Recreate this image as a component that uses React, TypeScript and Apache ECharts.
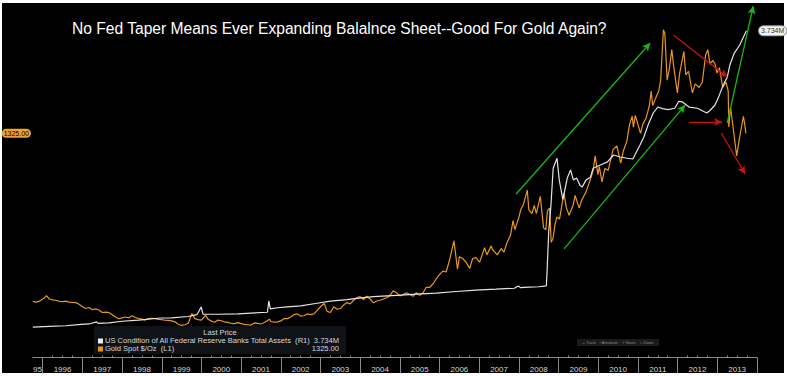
import React, { useEffect, useRef } from "react";
import * as echarts from "echarts";

const TITLE = "No Fed Taper Means Ever Expanding Balalnce Sheet--Good For Gold Again?";
const FED_NAME = "US Condition of All Federal Reserve Banks Total Assets  (R1)";
const GOLD_NAME = "Gold Spot $/Oz  (L1)";
const FED_LAST = "3.734M";
const GOLD_LAST = "1325.00";

const X_MIN = 1995.755;
const X_MAX = 2014;
const yearBoundaries = [1996, 1997, 1998, 1999, 2000, 2001, 2002, 2003, 2004, 2005, 2006, 2007, 2008, 2009, 2010, 2011, 2012, 2013, 2014];
const yearLabels = ["95", "1996", "1997", "1998", "1999", "2000", "2001", "2002", "2003", "2004", "2005", "2006", "2007", "2008", "2009", "2010", "2011", "2012", "2013"];

// Gold Spot $/Oz (left axis)
const goldSpot: [string, number][] = [
  ["1995-10-01", 392], ["1995-11-01", 388], ["1995-12-01", 393], ["1996-01-15", 410], ["1996-02-05", 424],
  ["1996-03-01", 405], ["1996-04-01", 400], ["1996-05-01", 398], ["1996-06-01", 392], ["1996-07-01", 390],
  ["1996-08-01", 393], ["1996-09-01", 388], ["1996-10-01", 386], ["1996-11-01", 385], ["1996-12-01", 376],
  ["1997-01-01", 362], ["1997-02-01", 352], ["1997-03-01", 358], ["1997-04-01", 345], ["1997-05-01", 350],
  ["1997-06-01", 344], ["1997-07-01", 330], ["1997-08-01", 332], ["1997-09-01", 330], ["1997-10-01", 318],
  ["1997-11-01", 305], ["1997-12-01", 295], ["1998-01-01", 300], ["1998-02-01", 305], ["1998-03-01", 300],
  ["1998-04-01", 312], ["1998-05-01", 302], ["1998-06-01", 296], ["1998-07-01", 293], ["1998-08-01", 288],
  ["1998-09-01", 296], ["1998-10-01", 298], ["1998-11-01", 296], ["1998-12-01", 292], ["1999-01-01", 290],
  ["1999-02-01", 287], ["1999-03-01", 286], ["1999-04-01", 283], ["1999-05-01", 278], ["1999-06-01", 265],
  ["1999-07-01", 258], ["1999-08-01", 262], ["1999-09-01", 270], ["1999-10-05", 324], ["1999-11-01", 296],
  ["1999-12-01", 290], ["2000-01-01", 288], ["2000-02-10", 315], ["2000-03-01", 292], ["2000-04-01", 282],
  ["2000-05-01", 276], ["2000-06-01", 288], ["2000-07-01", 284], ["2000-08-01", 278], ["2000-09-01", 275],
  ["2000-10-01", 270], ["2000-11-01", 268], ["2000-12-01", 274], ["2001-01-01", 268], ["2001-02-01", 264],
  ["2001-03-01", 262], ["2001-04-01", 260], ["2001-05-01", 272], ["2001-06-01", 270], ["2001-07-01", 266],
  ["2001-08-01", 274], ["2001-09-20", 292], ["2001-10-01", 280], ["2001-11-01", 276], ["2001-12-01", 278],
  ["2002-01-01", 283], ["2002-02-01", 296], ["2002-03-01", 296], ["2002-04-01", 305], ["2002-05-01", 318],
  ["2002-06-01", 322], ["2002-07-01", 310], ["2002-08-01", 312], ["2002-09-01", 322], ["2002-10-01", 318],
  ["2002-11-01", 322], ["2002-12-01", 342], ["2003-01-01", 362], ["2003-02-05", 380], ["2003-03-01", 336],
  ["2003-04-01", 330], ["2003-05-01", 362], ["2003-06-01", 348], ["2003-07-01", 352], ["2003-08-01", 372],
  ["2003-09-01", 385], ["2003-10-01", 378], ["2003-11-01", 398], ["2003-12-01", 412], ["2004-01-01", 418],
  ["2004-02-01", 402], ["2004-03-01", 420], ["2004-04-01", 405], ["2004-05-01", 384], ["2004-06-01", 394],
  ["2004-07-01", 398], ["2004-08-01", 405], ["2004-09-01", 412], ["2004-10-01", 425], ["2004-11-01", 450],
  ["2004-12-01", 440], ["2005-01-01", 422], ["2005-02-01", 430], ["2005-03-01", 440], ["2005-04-01", 430],
  ["2005-05-01", 420], ["2005-06-01", 440], ["2005-07-01", 425], ["2005-08-01", 440], ["2005-09-01", 470],
  ["2005-10-01", 470], ["2005-11-01", 488], ["2005-12-10", 525], ["2006-01-01", 540], ["2006-02-01", 560],
  ["2006-03-01", 555], ["2006-04-01", 620], ["2006-05-12", 728], ["2006-06-14", 570], ["2006-07-01", 640],
  ["2006-08-01", 630], ["2006-09-01", 610], ["2006-10-05", 575], ["2006-11-01", 630], ["2006-12-01", 635],
  ["2007-01-05", 610], ["2007-02-20", 690], ["2007-03-10", 650], ["2007-04-20", 700], ["2007-05-01", 680],
  ["2007-06-15", 650], ["2007-07-20", 685], ["2007-08-15", 665], ["2007-09-15", 720], ["2007-10-15", 760],
  ["2007-11-08", 840], ["2007-11-25", 790], ["2008-01-01", 860], ["2008-01-20", 905], ["2008-02-10", 925],
  ["2008-03-17", 1010], ["2008-04-01", 900], ["2008-05-01", 880], ["2008-05-20", 925], ["2008-06-10", 880],
  ["2008-07-15", 975], ["2008-08-15", 800], ["2008-09-05", 790], ["2008-09-20", 895], ["2008-10-10", 910],
  ["2008-10-24", 720], ["2008-11-10", 740], ["2008-11-28", 815], ["2008-12-15", 860], ["2009-01-10", 850],
  ["2009-02-20", 995], ["2009-03-10", 915], ["2009-04-06", 870], ["2009-05-15", 930], ["2009-06-01", 980],
  ["2009-07-08", 910], ["2009-08-01", 955], ["2009-09-10", 1000], ["2009-10-15", 1060], ["2009-11-15", 1120],
  ["2009-12-03", 1200], ["2009-12-28", 1095], ["2010-01-10", 1140], ["2010-02-05", 1055], ["2010-03-01", 1130],
  ["2010-04-01", 1120], ["2010-05-15", 1235], ["2010-06-20", 1255], ["2010-07-25", 1160], ["2010-08-20", 1230],
  ["2010-09-20", 1280], ["2010-10-15", 1375], ["2010-11-09", 1420], ["2010-11-20", 1360], ["2010-12-07", 1425],
  ["2011-01-25", 1325], ["2011-02-15", 1375], ["2011-03-15", 1410], ["2011-04-15", 1480], ["2011-05-01", 1560],
  ["2011-05-15", 1480], ["2011-06-15", 1525], ["2011-07-10", 1560], ["2011-07-28", 1625], ["2011-08-22", 1900],
  ["2011-09-05", 1880], ["2011-09-26", 1620], ["2011-10-15", 1680], ["2011-11-08", 1790], ["2011-11-25", 1700],
  ["2011-12-29", 1550], ["2012-01-20", 1660], ["2012-02-28", 1780], ["2012-03-15", 1650], ["2012-04-10", 1670],
  ["2012-05-15", 1550], ["2012-06-10", 1600], ["2012-07-15", 1580], ["2012-08-15", 1610], ["2012-09-15", 1760],
  ["2012-10-05", 1790], ["2012-10-25", 1710], ["2012-11-20", 1730], ["2012-12-10", 1710], ["2012-12-28", 1660],
  ["2013-01-20", 1690], ["2013-02-20", 1580], ["2013-03-20", 1610], ["2013-04-10", 1560], ["2013-04-15", 1360],
  ["2013-05-01", 1470], ["2013-05-20", 1380], ["2013-06-27", 1200], ["2013-07-20", 1290], ["2013-08-28", 1420],
  ["2013-09-10", 1375], ["2013-09-20", 1325],
];

// Fed total assets, millions of millions (right axis)
const fedAssets: [string, number][] = [
  ["1995-10-01", 0.448], ["1996-03-01", 0.455], ["1996-08-01", 0.462], ["1996-12-20", 0.478], ["1997-03-01", 0.482],
  ["1997-05-10", 0.505], ["1997-05-25", 0.488], ["1997-09-01", 0.495], ["1998-01-01", 0.512], ["1998-06-01", 0.525],
  ["1998-12-20", 0.548], ["1999-04-01", 0.55], ["1999-09-01", 0.565], ["1999-11-20", 0.585], ["1999-12-29", 0.67],
  ["2000-01-15", 0.592], ["2000-06-01", 0.59], ["2000-12-01", 0.594], ["2001-04-01", 0.603], ["2001-08-30", 0.612],
  ["2001-09-12", 0.737], ["2001-09-26", 0.65], ["2001-12-01", 0.662], ["2002-03-01", 0.672], ["2002-07-01", 0.683],
  ["2002-12-01", 0.712], ["2003-04-01", 0.735], ["2003-09-01", 0.752], ["2003-12-01", 0.765], ["2004-05-01", 0.785],
  ["2004-12-01", 0.8], ["2005-06-01", 0.812], ["2005-12-01", 0.825], ["2006-06-01", 0.842], ["2006-12-01", 0.858],
  ["2007-06-01", 0.868], ["2007-11-20", 0.878], ["2007-12-26", 0.904], ["2008-01-15", 0.885], ["2008-04-01", 0.89],
  ["2008-07-01", 0.895], ["2008-09-10", 0.905], ["2008-09-17", 1.07], ["2008-10-01", 1.5], ["2008-10-22", 1.8],
  ["2008-11-12", 2.21], ["2008-12-17", 2.32], ["2009-01-07", 2.08], ["2009-02-10", 1.86], ["2009-03-20", 2.1],
  ["2009-04-20", 2.19], ["2009-05-15", 2.08], ["2009-06-15", 2.1], ["2009-07-15", 2.02], ["2009-08-05", 2.0],
  ["2009-09-10", 2.08], ["2009-10-20", 2.11], ["2009-11-15", 2.21], ["2010-01-20", 2.245], ["2010-03-25", 2.28],
  ["2010-05-20", 2.356], ["2010-07-20", 2.334], ["2010-09-25", 2.32], ["2010-11-15", 2.312], ["2011-01-20", 2.467],
  ["2011-02-25", 2.556], ["2011-04-10", 2.712], ["2011-05-20", 2.822], ["2011-07-01", 2.888], ["2011-08-15", 2.87],
  ["2011-10-01", 2.86], ["2011-12-05", 2.875], ["2012-01-10", 2.95], ["2012-02-15", 2.945], ["2012-04-15", 2.888],
  ["2012-07-01", 2.875], ["2012-09-25", 2.822], ["2012-10-25", 2.85], ["2012-12-10", 2.911], ["2013-01-10", 2.99],
  ["2013-02-25", 3.133], ["2013-04-01", 3.22], ["2013-04-25", 3.354], ["2013-06-05", 3.487], ["2013-07-25", 3.576],
  ["2013-09-25", 3.734],
];

// Annotation arrows in data units: [year, gold price]
const annotations: { from: [number, number]; to: [number, number]; color: string }[] = [
  { from: [2007.93, 988], to: [2011.31, 1827], color: "#19b819" },
  { from: [2009.14, 683], to: [2012.19, 1482], color: "#19b819" },
  { from: [2013.25, 1383], to: [2013.905, 2032], color: "#19b819" },
  { from: [2011.89, 1871], to: [2013.25, 1638], color: "#cc1111" },
  { from: [2012.29, 1388], to: [2013.12, 1388], color: "#cc1111" },
  { from: [2013.1, 1327], to: [2013.7, 1099], color: "#cc1111" },
];

const toYear = (d: string) => {
  const [y, m, dd] = d.split("-").map(Number);
  return y + (m - 1) / 12 + (dd - 1) / 365;
};

const FONT = "Liberation Sans";

export default function App() {
  const ref = useRef<HTMLDivElement>(null);
  useEffect(() => {
    document.body.style.margin = "0";
    const chart = echarts.init(ref.current!, undefined, { renderer: "svg" });
    const labelValues = yearLabels.map((l, i) => (i === 0 ? X_MIN + 0.113 : 1996 + (i - 1) + 0.5));
    const quarterTicks: number[] = [];
    for (let y = 1996; y < 2014; y++) quarterTicks.push(y + 0.25, y + 0.5, y + 0.75);

    const legendText = (x: number, y: number, text: string, align: string, sx: number) => ({
      type: "text",
      z: 11,
      x,
      y,
      scaleX: sx,
      style: { x: 0, y: 0, text, fill: "#d8d8d8", fontSize: 7, fontFamily: FONT, align, verticalAlign: "middle" },
    });

    const option: any = {
      animation: false,
      backgroundColor: "#ffffff",
      title: {
        text: TITLE,
        left: 67,
        top: 15,
        textStyle: { color: "#ffffff", fontSize: 15.6, fontWeight: "normal", fontFamily: FONT },
      },
      grid: { left: 33, right: 30, top: 5, bottom: 18.5, containLabel: false, outerBoundsMode: "none" },
      xAxis: [
        {
          type: "value",
          min: X_MIN,
          max: X_MAX,
          axisLine: { show: true, lineStyle: { color: "#8a8a8a", width: 1 } },
          axisTick: { show: true, customValues: yearBoundaries, length: 16, inside: false, lineStyle: { color: "#8a8a8a" } },
          axisLabel: {
            show: true,
            customValues: labelValues,
            formatter: (v: number) => {
              const idx = labelValues.findIndex((lv) => Math.abs(lv - v) < 1e-6);
              return idx >= 0 ? yearLabels[idx] : "";
            },
            color: "#d8d8d8",
            fontSize: 8,
            fontFamily: FONT,
            margin: 8,
          },
          splitLine: { show: false },
        },
        {
          type: "value",
          min: X_MIN,
          max: X_MAX,
          position: "bottom",
          offset: 0,
          axisLine: { show: false },
          axisTick: { show: true, customValues: quarterTicks, length: 2, inside: true, lineStyle: { color: "#8a8a8a" } },
          axisLabel: { show: false },
          splitLine: { show: false },
        },
      ],
      yAxis: [
        {
          type: "value",
          min: 80,
          max: 2038,
          position: "left",
          axisLine: { show: false },
          axisTick: { show: false },
          splitLine: { show: false },
          axisLabel: {
            show: true,
            customValues: [1325],
            formatter: () => GOLD_LAST,
            color: "#000",
            backgroundColor: "#f0a030",
            borderRadius: 5,
            padding: [1, 2, 1, 2],
            fontSize: 7,
            fontFamily: FONT,
            margin: 2,
          },
        },
        {
          type: "value",
          min: 0.11,
          max: 4.02,
          position: "right",
          axisLine: { show: false },
          axisTick: { show: false },
          splitLine: { show: false },
          axisLabel: {
            show: true,
            customValues: [3.734],
            formatter: () => FED_LAST,
            color: "#333",
            backgroundColor: "#f2f2f2",
            borderColor: "#999",
            borderWidth: 1,
            borderRadius: 5,
            padding: [1, 2, 1, 2],
            fontSize: 7,
            fontFamily: FONT,
            margin: 2,
          },
        },
      ],
      series: [
        {
          name: GOLD_NAME,
          type: "line",
          xAxisIndex: 0,
          yAxisIndex: 0,
          symbol: "none",
          data: goldSpot.map(([d, v]) => [toYear(d), v]),
          lineStyle: { color: "#e8961e", width: 1.2 },
          z: 3,
          markLine: {
            silent: true,
            symbol: ["none", "arrow"],
            symbolSize: [6, 8],
            label: { show: false },
            data: annotations.map((a) => [
              { coord: a.from, lineStyle: { color: a.color, width: 1.3, type: "solid" } },
              { coord: a.to },
            ]),
          },
        },
        {
          name: FED_NAME,
          type: "line",
          xAxisIndex: 0,
          yAxisIndex: 1,
          symbol: "none",
          data: fedAssets.map(([d, v]) => [toYear(d), v]),
          lineStyle: { color: "#e4e4e4", width: 1.2 },
          z: 4,
        },
      ],
      graphic: [
        { type: "rect", z: -10, shape: { x: 2, y: 3, width: 782, height: 370 }, style: { fill: "#000" } },
        { type: "rect", z: 10, shape: { x: 94, y: 326, width: 252, height: 28 }, style: { fill: "#0f1318" } },
        { type: "text", z: 11, style: { x: 220, y: 332, text: "Last Price", fill: "#d8d8d8", fontSize: 7.5, fontFamily: FONT, align: "center", verticalAlign: "middle" } },
        { type: "rect", z: 11, shape: { x: 98, y: 338.5, width: 5, height: 5 }, style: { fill: "#f0f0f0" } },
        legendText(105, 341, FED_NAME, "left", 1.08),
        legendText(339, 341, FED_LAST, "right", 1.08),
        { type: "rect", z: 11, shape: { x: 98, y: 346.5, width: 5, height: 5 }, style: { fill: "#e8961e" } },
        legendText(105, 349, GOLD_NAME, "left", 1.08),
        legendText(339, 349, GOLD_LAST, "right", 1.08),
        { type: "rect", z: 10, shape: { x: 577, y: 339, width: 82, height: 7 }, style: { fill: "#1b1b1b" } },
        { type: "text", z: 11, style: { x: 618, y: 342.5, text: "+ Track    ⁄ Annotate    ≡ News    ⌕ Zoom", fill: "#8a8a8a", fontSize: 4, fontFamily: FONT, align: "center", verticalAlign: "middle" } },
      ],
    };
    chart.setOption(option);
    return () => chart.dispose();
  }, []);
  return <div ref={ref} style={{ width: 787, height: 376 }} />;
}
